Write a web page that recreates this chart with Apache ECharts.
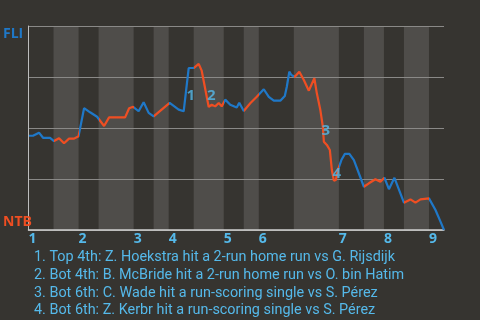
<!DOCTYPE html>
<html>
<head>
<meta charset="utf-8">
<script src="https://cdn.jsdelivr.net/npm/echarts@6/dist/echarts.min.js"></script>
<style>
html,body{margin:0;padding:0;background:#363430;}
#c{width:480px;height:320px;}
</style>
</head>
<body>
<div id="c"></div>
<script>
// ---- data ----
// play index (x) and FLI win probability (y)
const playX = [0,0.9,2.1,2.9,4.3,5.1,6.1,7.1,8.1,9.1,10,11.1,12.3,13.7,15.1,16.1,19.3,20.1,20.9,22,23,24,25,28.2,30,31,32,33,34,34.6,36,36.6,37.3,38,38.6,39.3,40.3,41.6,42.1,43,44.3,45.6,47,48,49,50.3,51.2,51.6,52.1,52.5,53.2,54.1,55,56,57.1,57.6,58.3,58.8,59,59.6,60.2,60.6,61,61.4,61.8,62.5,63.2,64.1,65,67,68,69.3,70.3,71.1,72,73.1,75,76.3,77.3,78.3,80,80.3,81.3,82.3,83];
const winProb = [0.462,0.462,0.477,0.452,0.452,0.436,0.450,0.425,0.448,0.448,0.46,0.597,0.577,0.555,0.510,0.552,0.552,0.597,0.604,0.582,0.626,0.574,0.557,0.623,0.590,0.582,0.794,0.794,0.814,0.781,0.603,0.614,0.606,0.623,0.606,0.639,0.614,0.601,0.624,0.583,0.621,0.653,0.690,0.653,0.634,0.634,0.657,0.702,0.776,0.760,0.751,0.776,0.735,0.683,0.744,0.670,0.588,0.506,0.433,0.417,0.392,0.294,0.242,0.245,0.294,0.343,0.373,0.373,0.343,0.212,0.229,0.249,0.237,0.256,0.200,0.256,0.134,0.150,0.134,0.150,0.155,0.163,0.098,0.041,0];
// half-inning boundaries (play index); top halves start at inningStarts
const halfInningBounds = [0,5,10,14,21,25,28,33,39,43,46,53,62,67,71,75,80,83];
const inningStarts = [0,10,21,28,39,46,62,71,80];
const inningLabels = ['1','2','3','4','5','6','7','8','9'];
// key events
const eventNums = ['1','2','3','4'];
const eventX = [32.4,36.5,59.4,61.6];
const eventY = [0.657,0.657,0.486,0.278];
const eventTexts = [
  '1. Top 4th: Z. Hoekstra hit a 2-run home run vs G. Rijsdijk',
  '2. Bot 4th: B. McBride hit a 2-run home run vs O. bin Hatim',
  '3. Bot 6th: C. Wade hit a run-scoring single vs S. Pérez',
  '4. Bot 6th: Z. Kerbr hit a run-scoring single vs S. Pérez'
];
const teamTop = 'FLI', teamBottom = 'NTB';

// ---- styles ----
const BLUE = '#1f78c8', RED = '#ef4e22', LABEL = '#55b9ea', BAND = '#4f4d4a';

const lineData = playX.map((x,i)=>[x, winProb[i]]);
const bands = [];
const pieces = [];
for (let i=0;i<halfInningBounds.length-1;i++){
  const a = halfInningBounds[i], b = halfInningBounds[i+1];
  const isBottom = i % 2 === 1;
  if (isBottom) bands.push([a,b]);
  pieces.push({gte:a, lt: (i===halfInningBounds.length-2 ? b+1 : b), color: isBottom ? RED : BLUE});
}

const chart = echarts.init(document.getElementById('c'), null, {renderer:'canvas'});
chart.setOption({
  backgroundColor: '#363430',
  animation: false,
  title: {
    text: eventTexts.join('\n'),
    left: 29, top: 244,
    textStyle: {color: LABEL, fontSize: 14.4, fontWeight: 'normal', lineHeight: 17.6, fontFamily: 'Roboto'}
  },
  grid: {left: 28.5, right: 36, top: 26, bottom: 90, containLabel: false},
  xAxis: {
    type: 'value', min: 0, max: 83,
    axisLine: {show: true, lineStyle: {color: '#d0d0d0', width: 1.5}},
    axisTick: {show: false},
    splitLine: {show: false},
    axisLabel: {
      customValues: inningStarts,
      formatter: v => inningLabels[inningStarts.indexOf(v)] || '',
      align: 'left', margin: 2,
      color: LABEL, fontWeight: 'bold', fontSize: 14, fontFamily: 'Open Sans'
    }
  },
  yAxis: {
    type: 'value', min: 0, max: 1, interval: 0.25,
    axisLine: {show: true, lineStyle: {color: '#bdbdbd'}},
    axisTick: {show: false},
    splitLine: {show: true, lineStyle: {color: '#8a8987', width: 1}},
    axisLabel: {
      align: 'left', margin: 25.5,
      formatter: v => v === 1 ? '{t|' + teamTop + '}' : (v === 0 ? '{b|' + teamBottom + '}' : ''),
      rich: {
        t: {color: BLUE, fontWeight: 'bold', fontSize: 14, fontFamily: 'Open Sans', padding: [16,0,0,0]},
        b: {color: RED, fontWeight: 'bold', fontSize: 14, fontFamily: 'Open Sans', padding: [0,0,15,0]}
      }
    }
  },
  visualMap: {
    type: 'piecewise', show: false, dimension: 0, seriesIndex: 1,
    pieces: pieces
  },
  series: [
    {
      type: 'custom', z: -1, silent: true,
      data: bands,
      renderItem: (params, api) => {
        const p0 = api.coord([api.value(0), 1]);
        const p1 = api.coord([api.value(1), 0]);
        return {type: 'rect', shape: {x: p0[0], y: p0[1], width: p1[0]-p0[0], height: p1[1]-p0[1]}, style: {fill: BAND}};
      }
    },
    {
      type: 'line', data: lineData, symbol: 'none', smooth: false,
      lineStyle: {width: 2.2}, z: 3
    },
    {
      type: 'scatter', symbolSize: 1, z: 4,
      itemStyle: {color: 'rgba(0,0,0,0)'},
      data: eventX.map((x,i)=>({value:[x, eventY[i]], name: eventNums[i]})),
      label: {show: true, position: 'inside', formatter: p => p.name, color: LABEL, fontWeight: 'bold', fontSize: 15, fontFamily: 'Open Sans'}
    }
  ]
});
</script>
</body>
</html>
